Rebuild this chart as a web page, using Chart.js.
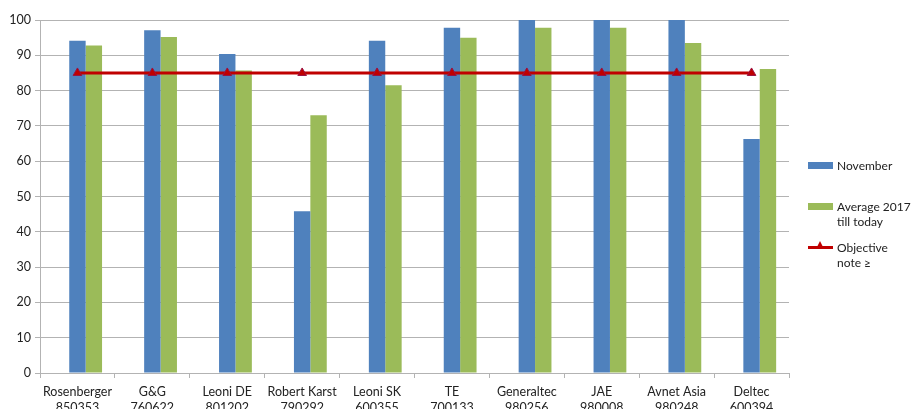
<!DOCTYPE html>
<html>
<head>
<meta charset="utf-8">
<script src="https://cdn.jsdelivr.net/npm/chart.js@4.4.1/dist/chart.umd.min.js"></script>
<style>
  html, body { margin: 0; padding: 0; background: #fff; overflow: hidden; }
  #wrap { position: relative; width: 911px; height: 409px; overflow: hidden; }
  #legend { position: absolute; left: 0; top: 0; font-family: Lato, "Liberation Sans", sans-serif; font-size: 12px; color: #222; line-height: 15px; }
  .item { position: absolute; left: 808px; white-space: nowrap; }
  .sw { position: absolute; left: 0; width: 25px; height: 7px; }
  .txt { position: absolute; left: 29px; }
  .ln { position: absolute; left: 0; width: 25px; height: 3px; background: #C00000; }
  .tri { position: absolute; left: 8px; width: 0; height: 0; border-left: 4.5px solid transparent; border-right: 4.5px solid transparent; border-bottom: 8px solid #C00000; }
</style>
</head>
<body>
<div id="wrap">
  <canvas id="chart" width="911" height="420"></canvas>
  <div id="legend">
    <div class="item" style="top:158px"><div class="sw" style="background:#4F81BD;top:4px"></div><div class="txt" style="top:0">November</div></div>
    <div class="item" style="top:199px"><div class="sw" style="background:#9BBB59;top:4px"></div><div class="txt" style="top:0">Average 2017<br>till today</div></div>
    <div class="item" style="top:240px"><div class="ln" style="top:6px"></div><div class="tri" style="top:1px"></div><div class="txt" style="top:0">Objective<br>note ≥</div></div>
  </div>
</div>
<script>
const categories = [
    ["Rosenberger", "850353"], ["G&G", "760622"], ["Leoni DE", "801202"],
    ["Robert Karst", "790292"], ["Leoni SK", "600355"], ["TE", "700133"],
    ["Generaltec", "980256"], ["JAE", "980008"], ["Avnet Asia", "980248"],
    ["Deltec", "600394"]
];
const november = [94.1, 97.1, 90.4, 45.8, 94.1, 97.8, 100, 100, 100, 66.3];
const average2017 = [92.8, 95.2, 85.7, 73.0, 81.5, 95.0, 97.8, 97.8, 93.5, 86.1];
const objective = [85, 85, 85, 85, 85, 85, 85, 85, 85, 85];
const emptySeries = [null, null, null, null, null, null, null, null, null, null];
const yTicks = { min: 0, max: 100, step: 10 };

const font = { family: "Lato, 'Liberation Sans', sans-serif", size: 12.5, lineHeight: 1.3 };
const gridGray = "#B3B3B3";

new Chart(document.getElementById("chart"), {
    type: "bar",
    data: {
        labels: categories,
        datasets: [
            { label: "", data: emptySeries, backgroundColor: "rgba(0,0,0,0)", order: 1 },
            { label: "November", data: november, backgroundColor: "#4F81BD", order: 1 },
            { label: "Average 2017 till today", data: average2017, backgroundColor: "#9BBB59", order: 1 },
            {
                type: "line",
                label: "Objective note ≥",
                data: objective,
                borderColor: "#C00000",
                borderWidth: 3,
                pointStyle: "triangle",
                pointRadius: 5,
                pointBackgroundColor: "#C00000",
                pointBorderColor: "#9A1040",
                pointBorderWidth: 1,
                order: 0
            }
        ]
    },
    options: {
        responsive: false,
        animation: false,
        categoryPercentage: 0.657,
        barPercentage: 1,
        layout: { padding: { top: 20, right: 122, left: 0, bottom: 0 } },
        plugins: { legend: { display: false }, tooltip: { enabled: false } },
        scales: {
            x: {
                grid: { drawOnChartArea: false, drawTicks: true, tickLength: 5, color: gridGray },
                border: { color: gridGray },
                ticks: { color: "#222", font: font, padding: 6, maxRotation: 0, autoSkip: false },
                afterFit: s => { s.height = 47; }
            },
            y: {
                min: yTicks.min,
                max: yTicks.max,
                grid: { color: gridGray, tickLength: 5 },
                border: { color: gridGray },
                ticks: { stepSize: yTicks.step, color: "#222", font: { family: font.family, size: 12.5 }, padding: 4 },
                afterFit: s => { s.width = 40; }
            }
        }
    }
});
</script>
</body>
</html>
